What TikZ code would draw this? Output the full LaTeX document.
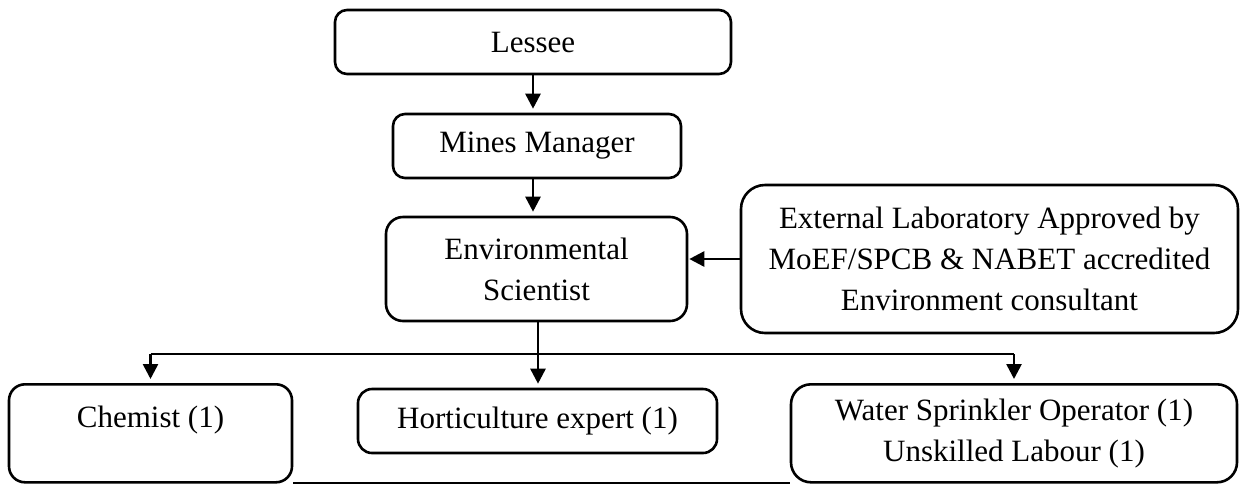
\documentclass[tikz,border=0pt]{standalone}
\usepackage{fontspec}
\setmainfont{Liberation Serif}
\usetikzlibrary{arrows.meta}
\begin{document}
\begin{tikzpicture}[x=1pt,y=-1pt,
  box/.style={draw, line width=2.6pt, rounded corners=#1, fill=white, inner sep=0pt, align=center, font=\fontsize{31}{41}\selectfont},
  box/.default=12pt,
  lbl/.style={inner sep=0pt, align=center, font=\fontsize{31}{41}\selectfont},
  arr/.style={line width=2.6pt, -{Triangle[length=15pt,width=15pt]}, shorten >=4pt},
  conn/.style={line width=2.6pt}]
\fill[white] (0,0) rectangle (1242,483);
\clip (0,0) rectangle (1242,483);
\node[box=12pt, minimum width=396pt, minimum height=64pt] (lessee) at (533,42) {Lessee};
\node[box=12pt, minimum width=288pt, minimum height=64pt] (mines) at (537,146) {Mines Manager};
\node[box=17pt, minimum width=301pt, minimum height=104pt] (env) at (536.5,269) {Environmental\\Scientist};
\node[box=24pt, minimum width=497pt, minimum height=148pt] (ext) at (989.5,259) {External Laboratory Approved by\\MoEF/SPCB \& NABET accredited\\Environment consultant};
\node[box=14pt, minimum width=359pt, minimum height=64pt] (hort) at (537.5,421) {Horticulture expert (1)};
\node[box=16pt, minimum width=283pt, minimum height=98pt, anchor=north] (chem) at (150.5,383) {};
\node[lbl] (chemt) at (150.5,420) {Chemist (1)};
\node[box=20pt, minimum width=446pt, minimum height=98pt, anchor=north] (water) at (1014,383) {Water Sprinkler Operator (1)\\Unskilled Labour (1)};
\coordinate (bus) at (538,354);
\draw[arr] (lessee.south) -- (lessee.south |- mines.north);
\draw[arr] (mines.south -| lessee.south) -- (lessee.south |- env.north);
\draw[arr, shorten >=1pt] (ext.west) -- (ext.west -| env.east);
\draw[arr] (bus |- env.south) -- (bus |- hort.north);
\draw[conn] (bus -| chem.north) -- (bus -| water.north);
\draw[arr] (bus -| chem.north) -- (chem.north);
\draw[arr] (bus -| water.north) -- (water.north);
\draw[conn] (chem.south east) -- (water.south west);
\end{tikzpicture}
\end{document}
